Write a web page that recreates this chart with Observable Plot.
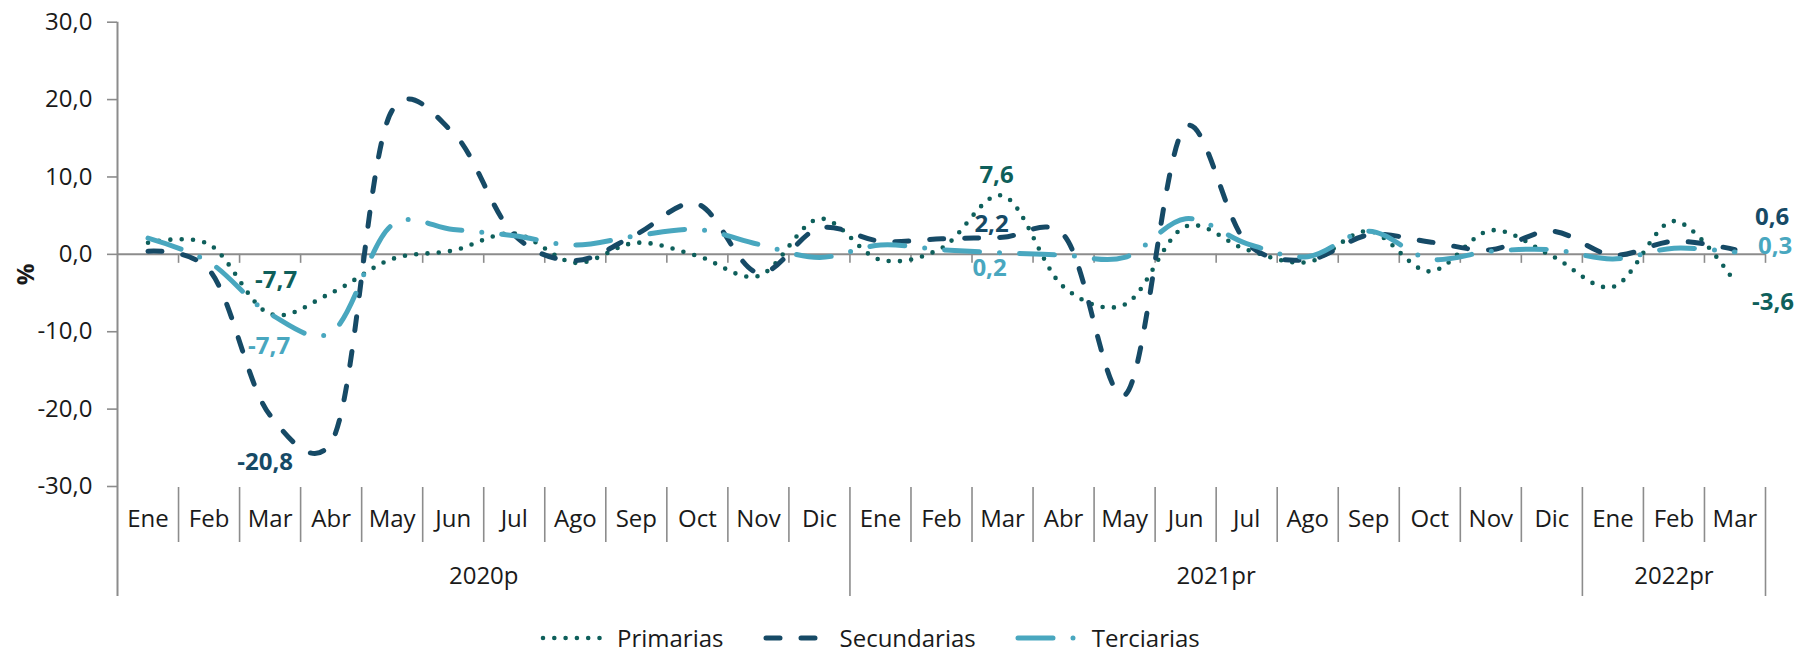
<!DOCTYPE html>
<html>
<head>
<meta charset="utf-8">
<script src="https://cdn.jsdelivr.net/npm/d3@7"></script>
<script src="https://cdn.jsdelivr.net/npm/@observablehq/plot@0.6"></script>
<style>
  html, body { margin: 0; padding: 0; background: #ffffff; }
  body { font-family: "Open Sans", sans-serif; width: 1797px; height: 651px; overflow: hidden; }
  #legend { display: flex; align-items: center; height: 27px; padding-left: 540px; font-size: 24px; color: #1a1a1a; }
  #legend .item { display: flex; align-items: center; margin-right: 39px; }
  #legend svg { margin-right: 10px; }
</style>
</head>
<body>
<div id="chart"></div>
<div id="legend"></div>
<script>
// ---------- data ----------
const months = ["Ene","Feb","Mar","Abr","May","Jun","Jul","Ago","Sep","Oct","Nov","Dic",
                "Ene","Feb","Mar","Abr","May","Jun","Jul","Ago","Sep","Oct","Nov","Dic",
                "Ene","Feb","Mar"];
const years = ["2020p", "2021pr", "2022pr"];
const monthsPerYear = [12, 12, 3];
const seriesNames = ["Primarias", "Secundarias", "Terciarias"];
const primarias   = [1.5, 1.3, -7.7, -5.0, -0.6, 0.5, 2.7, -1.1, 1.5, -0.2, -2.8, 4.6,
                     -0.7, 0.8, 7.6, -4.2, -6.5, 3.6, 0.6, -1.0, 3.0, -2.2, 3.1, -0.2,
                     -4.2, 4.3, -3.6];
const secundarias = [0.4, -2.0, -20.8, -24.3, 18.6, 15.7, 2.5, -0.8, 2.6, 6.5, -2.4, 3.4,
                     1.7, 2.0, 2.2, 2.5, -18.2, 16.5, 1.5, -0.7, 2.5, 1.6, 0.6, 3.0,
                     -0.1, 1.7, 0.6];
const terciarias  = [2.1, -1.0, -7.7, -10.1, 3.8, 3.2, 2.4, 1.2, 2.4, 3.2, 1.3, -0.4,
                     1.2, 0.6, 0.2, -0.1, -0.4, 4.6, 1.4, -0.3, 3.0, -0.6, 0.4, 0.6,
                     -0.6, 0.8, 0.3];
const yTicks = [-30, -20, -10, 0, 10, 20, 30];
// labelled points: [series, month index]
const labelledPoints = [
  ["Primarias", 2], ["Terciarias", 2], ["Secundarias", 2],
  ["Primarias", 14], ["Secundarias", 14], ["Terciarias", 14],
  ["Secundarias", 26], ["Terciarias", 26], ["Primarias", 26]
];

// ---------- styles ----------
const W = 1797, H = 624;
const mL = 117, mR = 32, mT = 21.7, mB = 28;
const frameBottom = H - mB;
const yMinPx = 486;
const textColor = "#1a1a1a";
const axisGray = "#8c8c8c";
const colors = {Primarias: "#0e5f5b", Secundarias: "#164a66", Terciarias: "#49a7bf"};
const dashes = {Primarias: "0 11.3", Secundarias: "14 21", Terciarias: "35 20 0 20"};
const widths = {Primarias: 4.6, Secundarias: 5, Terciarias: 5};
// label offsets (px) keyed by series + index
const labelOffsets = {
  "Primarias-2": {dx: 6, dy: -34, anchor: "middle"},
  "Terciarias-2": {dx: -1, dy: 32, anchor: "middle"},
  "Secundarias-2": {dx: -5, dy: 47, anchor: "middle"},
  "Primarias-14": {dx: -6, dy: -20, anchor: "middle"},
  "Secundarias-14": {dx: -11, dy: -13, anchor: "middle"},
  "Terciarias-14": {dx: -13, dy: 16, anchor: "middle"},
  "Secundarias-26": {dx: 20, dy: -32, anchor: "start"},
  "Terciarias-26": {dx: 23, dy: -6, anchor: "start"},
  "Primarias-26": {dx: 17, dy: 20, anchor: "start"}
};

// ---------- derived tables ----------
const values = {Primarias: primarias, Secundarias: secundarias, Terciarias: terciarias};
const rows = seriesNames.flatMap(s => values[s].map((v, i) => ({serie: s, i, v})));
const yPx = d3.scaleLinear([-30, 30], [yMinPx, mT]);
const fmt = d => d.toFixed(1).replace(".", ",");

const yearEnds = d3.cumsum(monthsPerYear);
const yearSep = Array.from(yearEnds, e => e - 0.5);
const monthSep = d3.range(1, months.length).map(i => i - 0.5).filter(b => !yearSep.includes(b));
const allSep = d3.range(1, months.length + 1).map(i => i - 0.5);
const yearCenters = years.map((y, k) => ({label: y, x: (yearEnds[k] - monthsPerYear[k]) + (monthsPerYear[k] - 1) / 2}));

const marks = [];
// zero line and its ticks
marks.push(Plot.ruleY([0], {stroke: axisGray, strokeWidth: 2}));
marks.push(Plot.ruleX(allSep, {x: d => d, stroke: axisGray, strokeWidth: 1.6,
  insetTop: yPx(0) - mT, insetBottom: frameBottom - (yPx(0) + 9)}));
// category box separators
marks.push(Plot.ruleX(monthSep, {x: d => d, stroke: axisGray, strokeWidth: 1.6,
  insetTop: 487 - mT, insetBottom: frameBottom - 542}));
marks.push(Plot.ruleX(yearSep, {x: d => d, stroke: axisGray, strokeWidth: 1.6, insetTop: 487 - mT}));
// y axis line
marks.push(Plot.ruleX([-0.5], {x: d => d, stroke: axisGray, strokeWidth: 2}));
marks.push(Plot.axisY({ticks: yTicks, tickSize: 10, tickPadding: 15, tickFormat: fmt,
  label: null, stroke: axisGray, strokeWidth: 1.6, fill: textColor, fontSize: 24}));
// y title
marks.push(Plot.text(["%"], {x: -0.5, y: 0, dx: -91, dy: 20, rotate: -90, text: d => d,
  fontWeight: "bold", fontSize: 24, fill: textColor}));
// month and year labels
marks.push(Plot.text(months, {x: (d, i) => i, frameAnchor: "bottom", dy: 526 - frameBottom,
  text: d => d, fontSize: 24, fill: textColor}));
marks.push(Plot.text(yearCenters, {x: "x", frameAnchor: "bottom", dy: 583 - frameBottom,
  text: "label", fontSize: 24, fill: textColor}));
// series lines
for (const s of seriesNames) {
  marks.push(Plot.line(rows.filter(r => r.serie === s), {
    x: "i", y: "v", curve: "catmull-rom", tension: 0.2,
    stroke: colors[s], strokeWidth: widths[s], strokeDasharray: dashes[s], strokeLinecap: "round"
  }));
}
// data labels
for (const [s, i] of labelledPoints) {
  const o = labelOffsets[s + "-" + i];
  marks.push(Plot.text([{i, v: values[s][i]}], {
    x: "i", y: "v", text: d => fmt(d.v), dx: o.dx, dy: o.dy, textAnchor: o.anchor,
    fontWeight: "bold", fontSize: 24, fill: colors[s]
  }));
}

const chart = Plot.plot({
  width: W, height: H,
  marginLeft: mL, marginRight: mR, marginTop: mT, marginBottom: mB,
  style: {fontFamily: "'Open Sans', sans-serif", fontSize: "24px", background: "#ffffff", overflow: "visible"},
  x: {type: "linear", domain: [-0.5, months.length - 0.5], range: [mL, W - mR], axis: null},
  y: {type: "linear", domain: [-30, 30], range: [yMinPx, mT], axis: null},
  marks
});
document.getElementById("chart").appendChild(chart);

// ---------- legend ----------
const legend = document.getElementById("legend");
for (const s of seriesNames) {
  const item = document.createElement("div");
  item.className = "item";
  item.innerHTML = `<svg width="67" height="27"><line x1="3" x2="64" y1="14" y2="14" stroke="${colors[s]}"
    stroke-width="${widths[s]}" stroke-dasharray="${dashes[s]}" stroke-linecap="round"/></svg><span>${s}</span>`;
  legend.appendChild(item);
}
</script>
</body>
</html>
